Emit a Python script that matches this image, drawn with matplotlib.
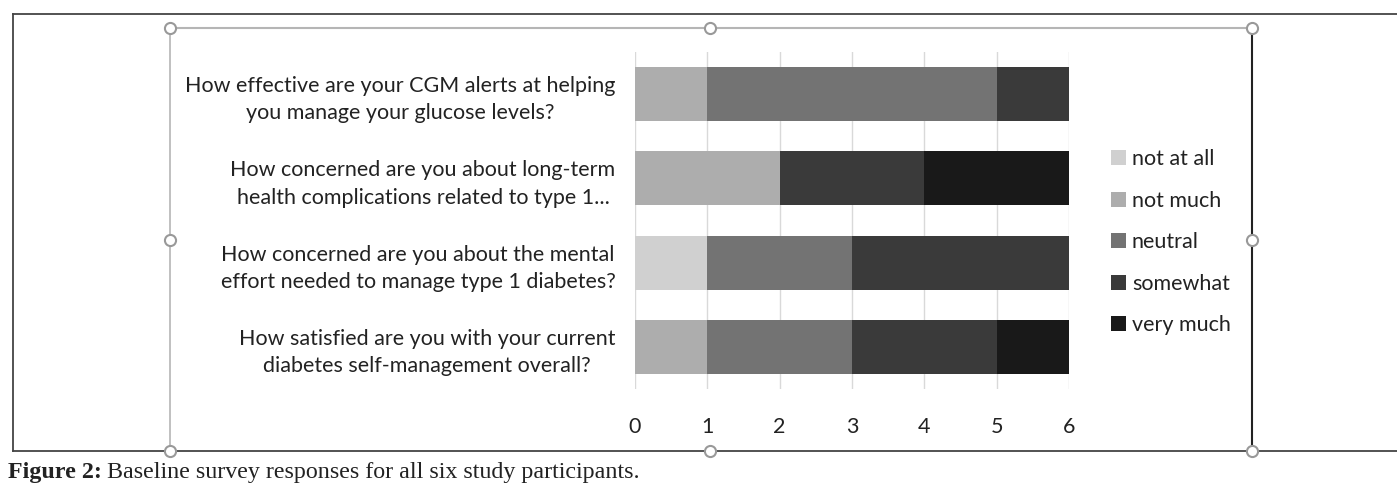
import numpy as np
import matplotlib
matplotlib.use("Agg")
import matplotlib.pyplot as plt
from matplotlib.lines import Line2D
from matplotlib.patches import Patch

# survey data, one list per response level (participants per question)
questions = [
    "How effective are your CGM alerts at helping\nyou manage your glucose levels?",
    "How concerned are you about long-term\nhealth complications related to type 1...",
    "How concerned are you about the mental\neffort needed to manage type 1 diabetes?",
    "How satisfied are you with your current\ndiabetes self-management overall?",
]
levels = ["not at all", "not much", "neutral", "somewhat", "very much"]
not_at_all = [0, 0, 1, 0]
not_much = [1, 2, 0, 1]
neutral = [4, 0, 2, 2]
somewhat = [1, 2, 3, 2]
very_much = [0, 2, 0, 1]
xticks = [0, 1, 2, 3, 4, 5, 6]

colors = ["#d0d0d0", "#adadad", "#737373", "#3a3a3a", "#191919"]
W, H = 1397, 488

plt.rcParams['font.family'] = ['Lato', 'DejaVu Sans']

fig = plt.figure(figsize=(W / 100, H / 100), dpi=100)

def fx(px):
    return px / W

def fy(py):
    return 1 - py / H

ax = fig.add_axes([fx(635), fy(389), fx(1069) - fx(635), fy(52) - fy(389)])

series = [not_at_all, not_much, neutral, somewhat, very_much]
ypos = np.arange(len(questions))
left = np.zeros(len(questions))
for vals, lab, col in zip(series, levels, colors):
    ax.barh(ypos, vals, left=left, height=0.64, color=col, label=lab, zorder=3)
    left += np.array(vals)

ax.set_ylim(len(questions) - 0.5, -0.5)
ax.set_xlim(0, 6)
ax.set_xticks(xticks)
ax.set_xticklabels([str(t) for t in xticks], fontsize=15.5, color="#222222")
ax.set_yticks(ypos)
ax.set_yticklabels(questions, fontsize=15.5, color="#222222",
                   multialignment="center", linespacing=1.45)
ax.tick_params(axis="both", length=0)
ax.tick_params(axis="y", pad=14)
ax.tick_params(axis="x", pad=20)
for s in ax.spines.values():
    s.set_visible(False)
ax.grid(axis="x", color="#d9d9d9", lw=1, zorder=0)

handles = [Patch(facecolor=c, edgecolor="none") for c in colors]
fig.legend(handles, levels, loc="upper left", bbox_to_anchor=(fx(1092), fy(130)),
           frameon=False, fontsize=15.5, handlelength=0.7, handleheight=0.7,
           handletextpad=0.25, labelspacing=1.0, labelcolor="#222222")

# selection frame around the chart object
gray = "#b5b5b5"
fig.add_artist(Line2D([fx(170), fx(1252)], [fy(28), fy(28)], color=gray, lw=1.5))
fig.add_artist(Line2D([fx(170), fx(170)], [fy(28), fy(451)], color=gray, lw=1.2))
fig.add_artist(Line2D([fx(1252), fx(1252)], [fy(28), fy(451)], color="#222222", lw=1.5))
# outer figure box
fig.add_artist(Line2D([fx(13), fx(1397)], [fy(14), fy(14)], color="#444444", lw=1.3))
fig.add_artist(Line2D([fx(13), fx(13)], [fy(14), fy(451)], color="#444444", lw=1.3))
fig.add_artist(Line2D([fx(13), fx(1397)], [fy(451), fy(451)], color="#444444", lw=1.3))
hx = [170, 710, 1252, 170, 1252, 170, 710, 1252]
hy = [28, 28, 28, 240, 240, 451, 451, 451]
fig.add_artist(Line2D([fx(v) for v in hx], [fy(v) for v in hy], ls="none",
                      marker="o", ms=8, mfc="white", mec="#999999", mew=1.5))

# caption
r = fig.canvas.get_renderer()
t1 = fig.text(fx(8), fy(478), "Figure 2:", fontsize=17.3, fontweight="bold",
              family="Liberation Serif", va="baseline", color="#222222")
bb = t1.get_window_extent(r)
fig.text(bb.x1 / W + fx(5), fy(478), "Baseline survey responses for all six study participants.",
         fontsize=17.3, family="Liberation Serif", va="baseline", color="#222222")

fig.savefig("out.png", dpi=100)
